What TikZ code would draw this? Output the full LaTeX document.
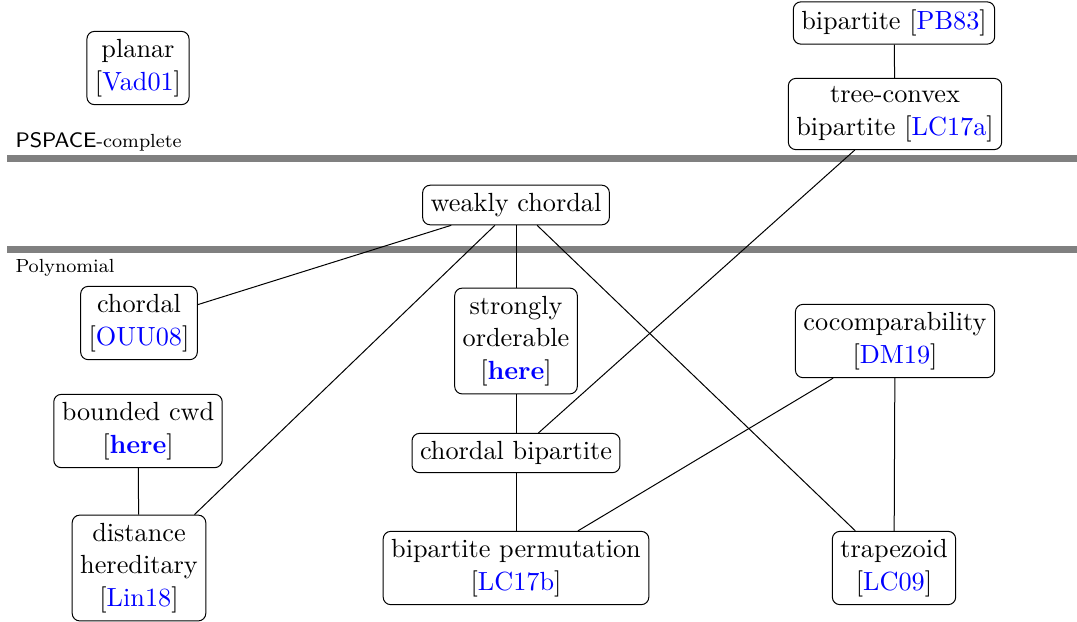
\documentclass[tikz,border=0pt]{standalone}
\usepackage{xcolor}
\newcommand{\refc}[1]{[\textcolor{blue}{#1}]}
\newcommand{\refh}{[\textcolor{blue}{\textbf{here}}]}
\begin{document}
\begin{tikzpicture}[x=0.4pt,y=-0.4pt,
        main node/.style={draw,rounded corners=3pt,align=center,inner xsep=3.2pt,inner ysep=3.2pt,
            line width=0.4pt,font=\fontsize{10.5}{13}\selectfont},
        band label/.style={anchor=base west,inner sep=0pt,font=\fontsize{7.6}{9}\selectfont},
        bar/.style={gray,line width=2.8pt}]
    \useasboundingbox (0,0) rectangle (1077,621);

    \draw[bar] (7,158) -- (1077,158);
    \draw[bar] (7,249) -- (1077,249);
    \node[band label] (pspace) at (15,147) {\textsf{\fontsize{8.4}{9}\selectfont PSPACE}-complete};
    \node[band label] (poly) at (15,272) {Polynomial};

    \node[main node] (planar) at (138,68) {planar\\\refc{Vad01}};
    \node[main node] (bip) at (894,23) {bipartite \refc{PB83}};
    \node[main node] (tcb) at (895,114) {tree-convex\\bipartite \refc{LC17a}};
    \node[main node] (wc) at (516,205) {weakly chordal};
    \node[main node] (chordal) at (139,323) {chordal\\\refc{OUU08}};
    \node[main node] (so) at (516,341) {strongly\\orderable\\\refh};
    \node[main node] (cocomp) at (895,341) {cocomparability\\\refc{DM19}};
    \node[main node] (cwd) at (138,431) {bounded cwd\\\refh};
    \node[main node] (cb) at (516,453) {chordal bipartite};
    \node[main node] (dh) at (139,568) {distance\\hereditary\\\refc{Lin18}};
    \node[main node] (bp) at (516,568) {bipartite permutation\\\refc{LC17b}};
    \node[main node] (trap) at (894,568) {trapezoid\\\refc{LC09}};

    \path
    (bip) edge (tcb)
    (tcb) edge (cb)
    (wc) edge (chordal)
         edge (dh)
         edge (so)
         edge (trap)
    (so) edge (cb)
    (cb) edge (bp)
    (cocomp) edge (bp)
             edge (trap)
    (cwd) edge (dh);
\end{tikzpicture}
\end{document}
